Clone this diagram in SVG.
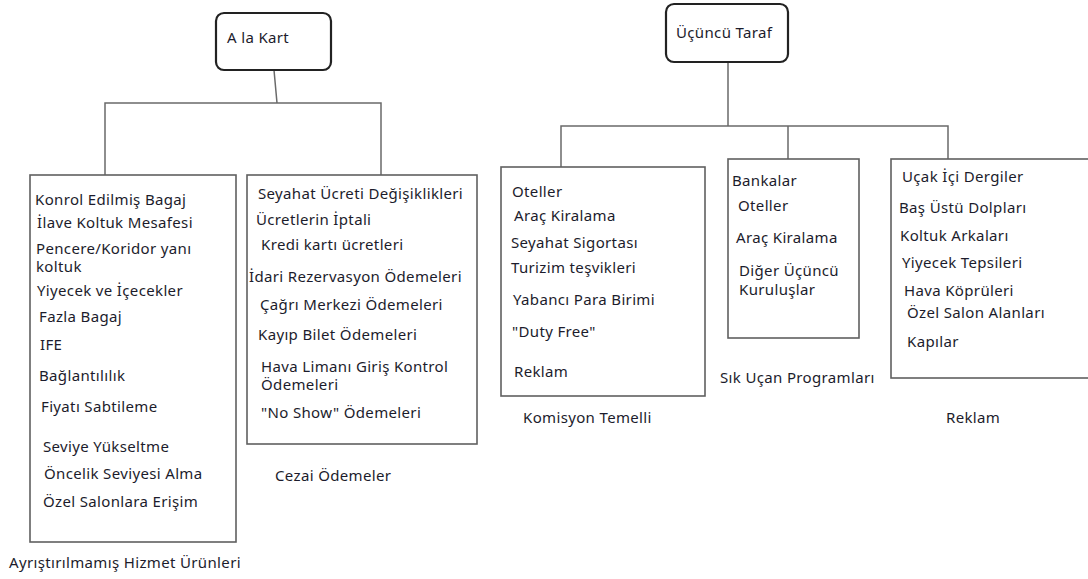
<svg xmlns="http://www.w3.org/2000/svg" width="1088" height="579" viewBox="0 0 1088 579">
<style>
text{font-family:"Noto Sans","Open Sans","DejaVu Sans",sans-serif;font-size:15px;letter-spacing:0.35px;fill:#1c1c2c}
.root{fill:#fff;stroke:#222;stroke-width:2.2}
.box{fill:#fff;stroke:#606060;stroke-width:1.6}
.conn{fill:none;stroke:#6a6a6a;stroke-width:1.5}
</style>
<rect width="1088" height="579" fill="#fff"/>
<g id="connectors">
<path class="conn" d="M274,70 L277,103 M105,175 L105,103 L381,103 L381,175"/>
<path class="conn" d="M728,62 L728,126 M561,167 L561,126 L948,126 L948,159 M788,126 L788,159"/>
</g>
<g id="alakart"><rect class="root" x="216" y="13" width="115" height="57" rx="8"/><text x="227" y="43">A la Kart</text></g>
<g id="ucuncu"><rect class="root" x="666" y="4" width="122" height="58" rx="8"/><text x="676" y="38">Üçüncü Taraf</text></g>
<g id="ayristirilmamis">
<rect class="box" x="30" y="175" width="206" height="367"/>
<text x="35" y="205">Konrol Edilmiş Bagaj</text>
<text x="37" y="228">İlave Koltuk Mesafesi</text>
<text x="36" y="254">Pencere/Koridor yanı</text>
<text x="36" y="272">koltuk</text>
<text x="37" y="296">Yiyecek ve İçecekler</text>
<text x="39" y="322">Fazla Bagaj</text>
<text x="40" y="350">IFE</text>
<text x="39" y="381">Bağlantılılık</text>
<text x="41" y="412">Fiyatı Sabtileme</text>
<text x="43" y="452">Seviye Yükseltme</text>
<text x="44" y="479">Öncelik Seviyesi Alma</text>
<text x="43" y="507">Özel Salonlara Erişim</text>
<text x="9" y="568">Ayrıştırılmamış Hizmet Ürünleri</text>
</g>
<g id="cezai">
<rect class="box" x="247" y="175" width="230" height="269"/>
<text x="258" y="199">Seyahat Ücreti Değişiklikleri</text>
<text x="256" y="225">Ücretlerin İptali</text>
<text x="261" y="250">Kredi kartı ücretleri</text>
<text x="249" y="282">İdari Rezervasyon Ödemeleri</text>
<text x="260" y="310">Çağrı Merkezi Ödemeleri</text>
<text x="258" y="340">Kayıp Bilet Ödemeleri</text>
<text x="261" y="372">Hava Limanı Giriş Kontrol</text>
<text x="261" y="390">Ödemeleri</text>
<text x="261" y="418">"No Show" Ödemeleri</text>
<text x="275" y="481">Cezai Ödemeler</text>
</g>
<g id="komisyon">
<rect class="box" x="501" y="167" width="204" height="229"/>
<text x="512" y="197">Oteller</text>
<text x="514" y="221">Araç Kiralama</text>
<text x="511" y="248">Seyahat Sigortası</text>
<text x="511" y="273">Turizim teşvikleri</text>
<text x="513" y="305">Yabancı Para Birimi</text>
<text x="512" y="337">"Duty Free"</text>
<text x="514" y="377">Reklam</text>
<text x="523" y="423">Komisyon Temelli</text>
</g>
<g id="sikucan">
<rect class="box" x="728" y="159" width="131" height="179"/>
<text x="732" y="186">Bankalar</text>
<text x="738" y="211">Oteller</text>
<text x="736" y="243">Araç Kiralama</text>
<text x="739" y="276">Diğer Üçüncü</text>
<text x="739" y="295">Kuruluşlar</text>
<text x="720" y="383">Sık Uçan Programları</text>
</g>
<g id="reklam">
<rect class="box" x="891" y="159" width="205" height="219"/>
<text x="902" y="182">Uçak İçi Dergiler</text>
<text x="899" y="213">Baş Üstü Dolpları</text>
<text x="900" y="241">Koltuk Arkaları</text>
<text x="902" y="268">Yiyecek Tepsileri</text>
<text x="904" y="296">Hava Köprüleri</text>
<text x="907" y="318">Özel Salon Alanları</text>
<text x="907" y="347">Kapılar</text>
<text x="946" y="423">Reklam</text>
</g>
</svg>
